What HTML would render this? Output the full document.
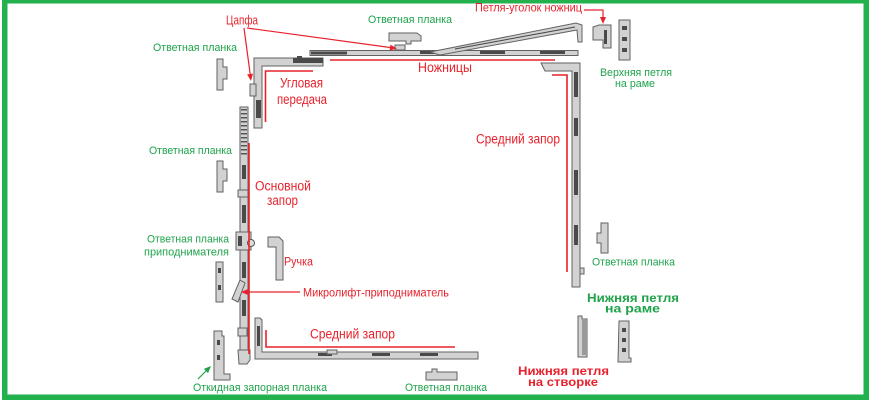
<!DOCTYPE html>
<html><head><meta charset="utf-8">
<style>
html,body{margin:0;padding:0;background:#fff;}
svg{display:block;}
text{font-family:"Liberation Sans","DejaVu Sans",sans-serif;}
.r{fill:#e8222c;font-size:13.5px;}
.rs{fill:#e8222c;font-size:11.5px;}
.g{fill:#1ea34b;font-size:11px;}
.gb{fill:#1ea34b;font-size:12px;font-weight:bold;}
.rb{fill:#e8222c;font-size:12px;font-weight:bold;}
.p{fill:#d2d2d2;stroke:#626262;stroke-width:1;}
.d{fill:#4a4a4a;}
.ln{stroke:#e8222c;stroke-width:1.6;fill:none;}
.lt{stroke:#e8222c;stroke-width:1.2;fill:none;}
</style></head>
<body>
<svg width="870" height="400" viewBox="0 0 870 400" xmlns="http://www.w3.org/2000/svg">
<rect x="0" y="0" width="870" height="400" fill="#fff"/>
<!-- green frame -->
<rect x="2" y="0" width="5.5" height="400" fill="#22b14c"/>
<rect x="2" y="0" width="867" height="3.5" fill="#22b14c"/>
<rect x="863.5" y="0" width="5.5" height="400" fill="#22b14c"/>
<rect x="2" y="394.5" width="867" height="5.5" fill="#22b14c"/>

<!-- ===== hardware (grey) ===== -->
<rect class="p" x="310" y="50.5" width="268" height="5"/>
<rect class="d" x="311" y="51.5" width="36" height="3"/>
<rect class="d" x="420" y="51" width="18" height="3"/>
<rect class="d" x="480" y="51" width="25" height="3"/>
<rect class="d" x="540" y="51" width="25" height="3"/>
<polygon class="p" points="430,52 576,23 582,25 582,42 578,42 577,30 440,55"/>
<line x1="455" y1="49" x2="575" y2="27" stroke="#444" stroke-width="1"/>
<rect class="p" x="395" y="45" width="10" height="5"/>
<path class="p" d="M389,33 h28 l4,3 v5 h-10 v3 h-5 v-3 h-17 z"/>
<path class="p" d="M254,58 H323 V66 H262 V128 H254 Z"/>
<rect class="d" x="293" y="58" width="30" height="5"/>
<rect class="d" x="297" y="56" width="5" height="3"/>
<rect class="p" x="250" y="84" width="6" height="12"/>
<rect class="d" x="256" y="100" width="5" height="18"/>
<rect class="p" x="240" y="107" width="8" height="254"/>
<g fill="#555">
<rect x="241" y="109" width="6" height="1.5"/><rect x="241" y="113" width="6" height="1.5"/>
<rect x="241" y="117" width="6" height="1.5"/><rect x="241" y="121" width="6" height="1.5"/>
<rect x="241" y="125" width="6" height="1.5"/><rect x="241" y="129" width="6" height="1.5"/>
<rect x="241" y="133" width="6" height="1.5"/><rect x="241" y="137" width="6" height="1.5"/>
<rect x="241" y="141" width="6" height="1.5"/><rect x="241" y="145" width="6" height="1.5"/>
<rect x="241" y="149" width="6" height="1.5"/><rect x="241" y="153" width="6" height="1.5"/>
</g>
<rect class="d" x="242" y="165" width="4" height="14"/>
<rect class="p" x="238" y="190" width="10" height="7"/>
<rect class="d" x="242" y="205" width="4" height="18"/>
<rect class="p" x="236" y="232" width="15" height="18"/>
<circle cx="251" cy="243" r="3.5" fill="#ddd" stroke="#555"/>
<rect class="d" x="238" y="236" width="4" height="10"/>
<rect class="d" x="242" y="262" width="4" height="16"/>
<rect class="d" x="242" y="300" width="4" height="16"/>
<rect class="p" x="238" y="328" width="9" height="8"/>
<path class="p" d="M238,350 h12 v10 l-3,4 h-8 z"/>
<path class="p" d="M268,237 h11 l4,4 v39 h-7 v-33 h-8 z"/>
<path class="p" d="M217,59 h6 v8 h4 v12 h-4 v11 h-6 z"/>
<path class="p" d="M217,161 h6 v8 h4 v12 h-4 v11 h-6 z"/>
<path class="p" d="M216,262 h7 v40 h-7 z"/>
<rect class="d" x="218" y="268" width="3" height="5"/><rect class="d" x="218" y="285" width="3" height="5"/>
<polygon class="p" points="240,280 245,283 238,302 232,299"/>
<path class="p" d="M214,331 h8 v5 h2 v38 h6 v6 h-16 z"/>
<rect class="d" x="217" y="340" width="3" height="5"/><rect class="d" x="217" y="355" width="3" height="5"/>
<path class="p" d="M255,318 h5 l2,2 v32 h216 v7 H255 Z"/>
<rect class="d" x="257" y="326" width="3" height="20"/>
<rect class="d" x="318" y="353" width="14" height="3"/>
<rect class="d" x="372" y="353" width="18" height="3"/>
<rect class="d" x="420" y="353" width="18" height="3"/>
<rect class="p" x="327" y="350" width="10" height="4"/>
<path class="p" d="M426,372 h6 v-3 h5 v3 h20 v8 h-31 z"/>
<path class="p" d="M541,63 H580 V287 H572 V71 H545 Z"/>
<rect class="d" x="574" y="72" width="4" height="25"/>
<rect class="d" x="574" y="118" width="4" height="18"/>
<rect class="d" x="574" y="170" width="4" height="25"/>
<rect class="d" x="574" y="225" width="4" height="20"/>
<rect class="p" x="580" y="268" width="4" height="6"/>
<path class="p" d="M601,223 h7 v30 h-7 v-10 h-4 v-10 h4 z"/>
<path class="p" d="M593,27 l6,-2 h12 v23 h-8 v-8 h-10 z"/>
<rect class="d" x="604" y="30" width="3" height="14"/>
<path class="p" d="M619,20 h11 v40 h-11 z"/>
<rect class="d" x="622" y="26" width="5" height="4"/><rect class="d" x="622" y="37" width="5" height="4"/><rect class="d" x="622" y="48" width="5" height="4"/>
<path class="p" d="M578,316 h4 v3 h5 v38 h-9 z"/>
<rect x="582" y="320" width="4" height="35" fill="#9a9a9a"/>
<path class="p" d="M619,321 h10 v37 h2 v4 h-13 z"/>
<rect class="d" x="622" y="328" width="4" height="4"/><rect class="d" x="622" y="338" width="4" height="4"/><rect class="d" x="622" y="348" width="4" height="4"/>

<!-- ===== red lines ===== -->
<path class="ln" d="M313,71 H265.5 V122"/>
<path class="ln" d="M330,60 H555"/>
<path class="ln" d="M552,75 H567 V272"/>
<path class="ln" d="M249,143 V354"/>
<path class="ln" d="M266,330 V347 H455"/>
<line class="lt" x1="244" y1="28" x2="250.3" y2="75"/>
<polygon fill="#e8222c" points="251,81 253,73.6 247.1,74.4"/>
<line class="lt" x1="247" y1="28" x2="391" y2="47.6"/>
<polygon fill="#e8222c" points="397,48.5 389.6,50.6 390.4,44.6"/>
<polyline class="lt" points="584,10 603,10 603,18"/>
<polygon fill="#e8222c" points="603,24 600,17 606,17"/>
<line class="lt" x1="300" y1="292" x2="247" y2="292"/>
<polygon fill="#e8222c" points="241,292 248,289 248,295"/>
<line x1="198" y1="379" x2="207" y2="370" stroke="#1ea34b" stroke-width="1.2"/>
<polygon fill="#1ea34b" points="211,366 208.1,373.1 203.9,368.9"/>

<!-- ===== labels ===== -->
<text class="rs" x="226" y="24.5" style="font-size:12.5px" textLength="32" lengthAdjust="spacingAndGlyphs">Цапфа</text>
<text class="g" x="153" y="51" textLength="84" lengthAdjust="spacingAndGlyphs">Ответная планка</text>
<text class="g" x="368" y="23" textLength="84" lengthAdjust="spacingAndGlyphs">Ответная планка</text>
<text class="rs" x="475" y="11.5" textLength="107" lengthAdjust="spacingAndGlyphs">Петля-уголок ножниц</text>
<text class="g" x="600" y="76" textLength="72" lengthAdjust="spacingAndGlyphs">Верхняя петля</text>
<text class="g" x="615" y="87" textLength="40" lengthAdjust="spacingAndGlyphs">на раме</text>
<text class="r" x="280" y="87.5" textLength="43" lengthAdjust="spacingAndGlyphs">Угловая</text>
<text class="r" x="277" y="104" textLength="50" lengthAdjust="spacingAndGlyphs">передача</text>
<text class="r" x="418" y="72" textLength="54" lengthAdjust="spacingAndGlyphs">Ножницы</text>
<text class="r" x="476" y="143.5" textLength="84" lengthAdjust="spacingAndGlyphs">Средний запор</text>
<text class="g" x="149" y="154" textLength="83" lengthAdjust="spacingAndGlyphs">Ответная планка</text>
<text class="r" x="255" y="190.5" textLength="56" lengthAdjust="spacingAndGlyphs">Основной</text>
<text class="r" x="267" y="205" textLength="31" lengthAdjust="spacingAndGlyphs">запор</text>
<text class="g" x="147" y="242.5" textLength="82" lengthAdjust="spacingAndGlyphs">Ответная планка</text>
<text class="g" x="144" y="255.5" textLength="85" lengthAdjust="spacingAndGlyphs">приподнимателя</text>
<text class="rs" x="284" y="265.5" textLength="29" lengthAdjust="spacingAndGlyphs">Ручка</text>
<text class="g" x="592" y="265.5" textLength="83" lengthAdjust="spacingAndGlyphs">Ответная планка</text>
<text class="rs" x="303" y="296.5" textLength="146" lengthAdjust="spacingAndGlyphs">Микролифт-приподниматель</text>
<text class="gb" x="587" y="302" textLength="92" lengthAdjust="spacingAndGlyphs">Нижняя петля</text>
<text class="gb" x="605" y="312.5" textLength="55" lengthAdjust="spacingAndGlyphs">на раме</text>
<text class="r" x="310" y="338.5" textLength="85" lengthAdjust="spacingAndGlyphs">Средний запор</text>
<text class="rb" x="518" y="375" textLength="91" lengthAdjust="spacingAndGlyphs">Нижняя петля</text>
<text class="rb" x="528" y="386" textLength="70" lengthAdjust="spacingAndGlyphs">на створке</text>
<text class="g" x="193" y="391" textLength="134" lengthAdjust="spacingAndGlyphs">Откидная запорная планка</text>
<text class="g" x="405" y="391" textLength="82" lengthAdjust="spacingAndGlyphs">Ответная планка</text>
</svg>
</body></html>
